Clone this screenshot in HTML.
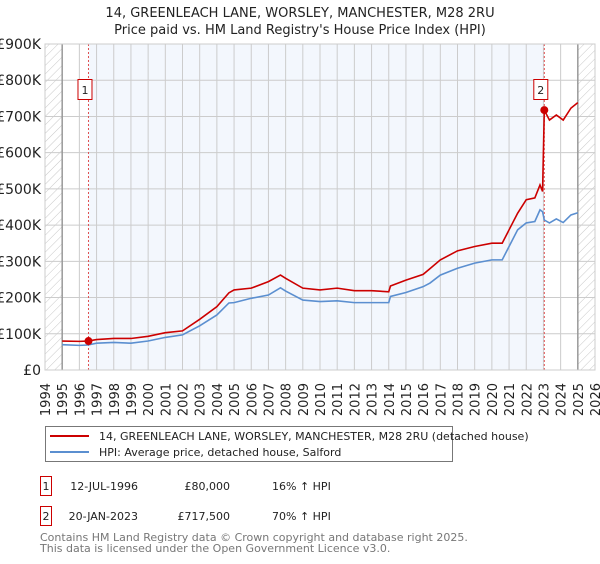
<!DOCTYPE html>
<html><head><meta charset="utf-8">
<style>
body{margin:0;background:#fff;width:600px;height:560px;overflow:hidden;font-family:"DejaVu Sans","Liberation Sans",sans-serif;}
svg text{font-family:"DejaVu Sans","Liberation Sans",sans-serif;}
</style></head>
<body>
<svg id="chart" width="600" height="560" xmlns="http://www.w3.org/2000/svg">
<defs>
<pattern id="hatch" width="6" height="6" patternUnits="userSpaceOnUse" patternTransform="rotate(45)">
<line x1="0" y1="0" x2="0" y2="6" stroke="#c8c8c8" stroke-width="1"/>
</pattern>
</defs>
<text x="300" y="17" text-anchor="middle" font-size="13" fill="#222">14, GREENLEACH LANE, WORSLEY, MANCHESTER, M28 2RU</text>
<text x="300" y="34" text-anchor="middle" font-size="13" fill="#222">Price paid vs. HM Land Registry's House Price Index (HPI)</text>
<g id="plot"></g>
<g>
<rect x="45.5" y="426.5" width="407" height="35" fill="#fff" stroke="#777"/>
<line x1="50" y1="436" x2="89" y2="436" stroke="#cc0000" stroke-width="2"/>
<text x="99" y="440" font-size="11" fill="#222">14, GREENLEACH LANE, WORSLEY, MANCHESTER, M28 2RU (detached house)</text>
<line x1="50" y1="452" x2="89" y2="452" stroke="#5b8fd0" stroke-width="2"/>
<text x="99" y="456" font-size="11" fill="#222">HPI: Average price, detached house, Salford</text>
</g>
<g>
<rect x="40.5" y="476.5" width="11" height="19" fill="#fff" stroke="#cc0000"/>
<text x="46" y="490" text-anchor="middle" font-size="11" fill="#222">1</text>
<text x="138" y="490" text-anchor="end" font-size="11" fill="#222">12-JUL-1996</text>
<text x="230" y="490" text-anchor="end" font-size="11" fill="#222">£80,000</text>
<text x="272" y="490" font-size="11" fill="#222">16% ↑ HPI</text>
</g>
<g>
<rect x="40.5" y="506.5" width="11" height="19" fill="#fff" stroke="#cc0000"/>
<text x="46" y="520" text-anchor="middle" font-size="11" fill="#222">2</text>
<text x="138" y="520" text-anchor="end" font-size="11" fill="#222">20-JAN-2023</text>
<text x="230" y="520" text-anchor="end" font-size="11" fill="#222">£717,500</text>
<text x="272" y="520" font-size="11" fill="#222">70% ↑ HPI</text>
</g>
<text x="40" y="541" font-size="11" fill="#777">Contains HM Land Registry data © Crown copyright and database right 2025.</text>
<text x="40" y="552" font-size="11" fill="#777">This data is licensed under the Open Government Licence v3.0.</text>
</svg>
<script>
const years=[1995,1996,1996.5,1997,1998,1999,2000,2001,2002,2003,2004,2004.7,2005,2006,2007,2007.7,2008,2009,2010,2011,2012,2013,2014,2014.1,2015,2016,2016.4,2017,2018,2019,2020,2020.6,2021,2021.5,2022,2022.5,2022.8,2022.95,2023.05,2023.35,2023.75,2024.15,2024.6,2025];
const hpi=[70,68,69,74,76,74,80,90,97,122,152,185,186,198,207,227,218,193,189,191,186,186,186,203,214,230,240,262,281,295,304,304,341,387,406,410,442,437,414,406,417,407,428,434];
const price=[80,79,80,84,87,87,93,103,108,140,175,213,221,226,244,262,253,226,221,226,219,219,216,232,248,264,280,304,329,341,350,350,387,433,470,475,511,493,717.5,690,704,690,723,738];
const yTicks=[0,100,200,300,400,500,600,700,800,900];
const yTickLabels=["£0","£100K","£200K","£300K","£400K","£500K","£600K","£700K","£800K","£900K"];
const xTicks=[1994,1995,1996,1997,1998,1999,2000,2001,2002,2003,2004,2005,2006,2007,2008,2009,2010,2011,2012,2013,2014,2015,2016,2017,2018,2019,2020,2021,2022,2023,2024,2025,2026];
const saleYears=[1996.53,2023.05];
const salePrices=[80,717.5];
const saleLabels=["1","2"];

const X0=45,X1=595,Y0=370,Y1=44;
const xs=y=>X0+(y-1994)/(2026-1994)*(X1-X0);
const ys=v=>Y0-v/900*(Y0-Y1);
const NS="http://www.w3.org/2000/svg";
const g=document.getElementById('plot');
function mk(t,a,p){const e=document.createElementNS(NS,t);for(const k in a)e.setAttribute(k,a[k]);(p||g).appendChild(e);return e;}

let bg=mk('rect',{x:X0,y:Y1,width:X1-X0,height:Y0-Y1,fill:'#fff'});


let sh=mk('rect',{x:xs(saleYears[0]),y:Y1,width:xs(saleYears[1])-xs(saleYears[0]),height:Y0-Y1,fill:'#f3f7fd'});


let h1=mk('rect',{x:X0,y:Y1,width:xs(1995)-X0,height:Y0-Y1,fill:'url(#hatch)'});


let h2=mk('rect',{x:xs(2025),y:Y1,width:X1-xs(2025),height:Y0-Y1,fill:'url(#hatch)'});



yTicks.forEach((v,i)=>{
 let l=mk('line',{x1:X0,x2:X1,y1:ys(v),y2:ys(v),stroke:'#cccccc','stroke-width':1});
 
 
 let t=mk('text',{x:X0-4,y:ys(v)+5,'text-anchor':'end','font-size':14,fill:'#222'});
 t.textContent=yTickLabels[i];
 
 
});
xTicks.forEach(yr=>{
 let strong=(yr===1995||yr===2025);
 let l=mk('line',{x1:xs(yr),x2:xs(yr),y1:Y1,y2:Y0,stroke:strong?'#999':'#cccccc','stroke-width':strong?1.5:1});
 
 
 let t=mk('text',{x:0,y:0,'text-anchor':'end','font-size':13,fill:'#222',transform:`translate(${xs(yr)+5},383) rotate(-90)`});
 t.textContent=yr;
 
 
});
saleYears.forEach(s=>{
 let l=mk('line',{x1:xs(s),x2:xs(s),y1:Y1,y2:Y0,stroke:'#e05050','stroke-width':1,'stroke-dasharray':'2,2'});
 
 
});
let hp=mk('polyline',{points:years.map((y,i)=>xs(y)+','+ys(hpi[i])).join(' '),fill:'none',stroke:'#5b8fd0','stroke-width':1.6});


let pp=mk('polyline',{points:years.map((y,i)=>xs(y)+','+ys(price[i])).join(' '),fill:'none',stroke:'#cc0000','stroke-width':1.6});


saleYears.forEach((s,i)=>{
 let c=mk('circle',{cx:xs(s),cy:ys(salePrices[i]),r:4,fill:'#cc0000'});
 
 
 let cx=xs(s)-3.5;
 let r=mk('rect',{x:cx-7,y:79.5,width:14,height:20,fill:'#fff',stroke:'#cc0000'});
 
 
 let t=mk('text',{x:cx,y:94,'text-anchor':'middle','font-size':11,fill:'#222'});
 t.textContent=saleLabels[i];
 
 
});
let bd=mk('rect',{x:X0,y:Y1,width:X1-X0,height:Y0-Y1,fill:'none',stroke:'#cccccc'});


</script>
</body></html>
